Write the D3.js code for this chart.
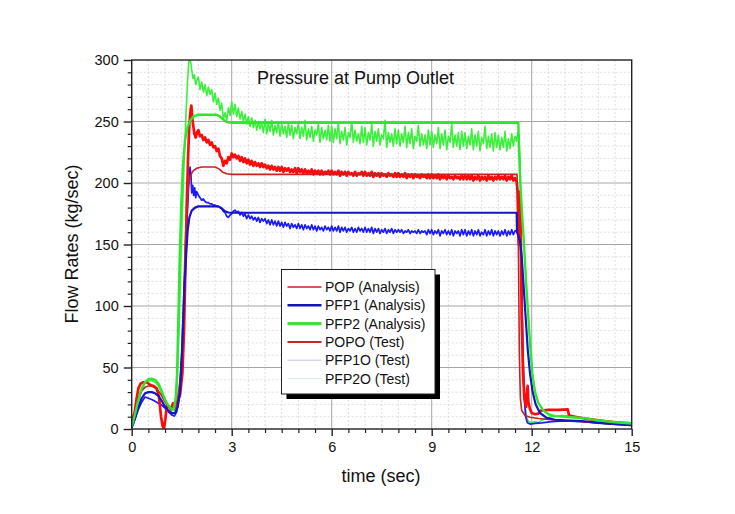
<!DOCTYPE html>
<html>
<head>
<meta charset="utf-8">
<script src="https://cdn.jsdelivr.net/npm/d3@7"></script>
<style>
  html, body { margin: 0; padding: 0; background: #fff; }
  svg { display: block; font-family: "Liberation Sans", Arial, sans-serif; }
</style>
</head>
<body>
<svg id="chart" width="735" height="514"></svg>
<script>
// ---------------- DATA ----------------
const chartTitle = "Pressure at Pump Outlet";
const xLabel = "time (sec)";
const yLabel = "Flow Rates (kg/sec)";
const xTicks = [0, 3, 6, 9, 12, 15];
const yTicks = [0, 50, 100, 150, 200, 250, 300];
const seriesNames = ["POP (Analysis)", "PFP1 (Analysis)", "PFP2 (Analysis)", "POPO (Test)", "PFP1O (Test)", "PFP2O (Test)"];

// Analysis curves: [time, value]
const popAnalysis = [[0,4],[0.1,14],[0.2,24],[0.3,31],[0.4,34],[0.5,35],[0.6,35],[0.7,33.5],[0.8,31],[0.9,27],[1.0,22],[1.1,19],[1.2,17.5],[1.3,19],[1.38,25],[1.45,40],[1.5,60],[1.55,100],[1.6,145],[1.65,180],[1.7,198],[1.76,206],[1.85,210],[1.95,212],[2.1,213],[2.5,213],[2.62,211.5],[2.72,209],[2.85,207.5],[3.0,207],[11.56,207],[11.6,150],[11.63,60],[11.66,25],[11.7,15],[11.8,11],[11.95,9.5],[12.2,8.5],[12.6,7.5],[13,7],[13.5,6],[14,5],[14.5,4],[15,3.5]];
const pfp1Analysis = [[0,1],[0.1,9],[0.2,18],[0.3,25],[0.4,29],[0.5,30],[0.6,30],[0.7,29],[0.8,27],[0.9,23],[1.0,18],[1.1,15],[1.2,13],[1.3,13],[1.38,18],[1.45,30],[1.52,70],[1.58,115],[1.64,145],[1.68,162],[1.73,172],[1.8,177.5],[1.9,180],[2.0,181],[2.6,181],[2.7,179.5],[2.8,177],[2.9,176],[3.0,175.8],[11.55,175.8],[11.56,160],[11.6,157],[11.65,153],[11.7,140],[11.76,115],[11.82,90],[11.88,65],[11.95,45],[12.03,30],[12.12,20],[12.25,13],[12.45,9],[12.7,7.5],[13.0,7],[13.5,6.5],[14,5],[14.5,4],[15,3.2]];
const pfp2Analysis = [[0,2],[0.1,12],[0.2,24],[0.3,33],[0.4,38],[0.5,40.5],[0.6,41],[0.7,40],[0.8,37],[0.9,31],[1.0,24],[1.1,19],[1.2,16],[1.27,17],[1.32,25],[1.36,45],[1.4,90],[1.44,140],[1.49,185],[1.54,215],[1.6,235],[1.68,246],[1.76,251],[1.85,254],[2.0,255.5],[2.55,255.5],[2.65,254],[2.75,251.5],[2.85,249.5],[3.0,249],[11.6,249],[11.62,225],[11.66,200],[11.71,175],[11.77,150],[11.83,120],[11.89,95],[11.95,70],[12.02,45],[12.1,30],[12.2,21],[12.35,15],[12.5,12],[12.7,10.5],[13.0,10],[13.5,9],[14,7],[14.5,5.5],[15,4.5]];

// Test curves: start section, sampled plateau (2.0 .. 11.5 s every 0.05 s), end section
const plateauStart = 2.0, plateauStep = 0.05;

const popoHead = [[0,8],[0.08,12],[0.15,25],[0.2,33],[0.27,37],[0.35,38],[0.45,38],[0.55,36],[0.65,35],[0.75,33],[0.82,26],[0.88,10],[0.93,2],[0.97,0.5],[1.01,8],[1.06,20],[1.12,18],[1.18,16],[1.24,21],[1.3,17],[1.38,22],[1.45,28],[1.52,45],[1.57,80],[1.61,130],[1.65,180],[1.69,220],[1.73,248],[1.77,260],[1.79,263],[1.82,252],[1.85,246],[1.88,240],[1.92,237],[1.96,241]];
const popoPlateau = [
  243,238,239,235,237,233,235,231,233,229,230,226,228,222,220,214,218,216,221,219,
  224,221,223,220,222,218,221,217,220,216,219,215,218,214,217,214,216,213,216,213,
  215,212,214,211,214,211,213,210,213,210,213,209,212,210,212,209,211,209,212,208,
  212,209,211,208,211,208,210,208,211,207,210,208,210,207,210,207,209,208,210,207,
  210,207,209,207,210,206,209,207,209,206,209,207,208,206,209,206,208,207,209,206,
  209,206,208,206,209,205,208,206,208,205,208,206,207,205,208,206,207,205,208,205,
  208,205,207,205,208,204,207,205,207,204,207,205,206,204,207,205,206,204,207,204,
  207,204,206,204,207,203,206,204,206,203,206,204,205,203,206,204,205,203,206,203,
  206,203,206,203,206,202,205,203,206,202,205,203,205,202,206,203,205,202,205,203,
  206,203,205,203,206,202,205,203,206,202,204];
const popoTail = [[11.55,201],[11.58,192],[11.61,150],[11.63,175],[11.65,193],[11.67,160],[11.7,90],[11.74,45],[11.78,25],[11.83,18],[11.86,30],[11.88,35],[11.9,22],[11.95,16],[12.0,13],[12.1,12],[12.2,12.5],[12.27,15],[12.5,15.5],[12.8,15.5],[13.08,16],[13.12,11],[13.3,10],[13.6,8.5],[14.0,7],[14.5,5.5],[15,4.5]];

const pfp1oHead = [[0,1],[0.1,8],[0.2,16],[0.3,22],[0.4,26],[0.5,25],[0.6,24],[0.7,22.5],[0.8,21],[0.9,19.5],[1.0,17],[1.1,14],[1.2,11.5],[1.28,10.5],[1.35,14],[1.42,25],[1.5,55],[1.56,95],[1.61,135],[1.66,170],[1.71,198],[1.75,213],[1.78,205],[1.8,192],[1.83,198],[1.86,190],[1.89,196],[1.92,188],[1.95,193]];
const pfp1oPlateau = [
  190,188,186,187,185,184,184,183,183,182,182,181,181,180,179,177,176,173,172,174,
  175,177,178,176,177,174,176,173,175,171,174,171,173,170,172,169,172,168,171,169,
  171,167,170,166,170,166,169,165,169,165,168,164,168,165,167,163,167,164,166,163,
  167,163,166,162,166,163,165,162,166,162,165,161,165,162,164,161,165,162,164,161,
  165,161,164,161,165,160,164,161,164,160,163,161,164,160,163,160,164,161,163,160,
  164,160,163,160,164,159,163,160,163,159,162,160,163,159,162,160,163,159,162,160,
  162,160,162,159,161,160,162,159,161,160,161,159,162,159,161,160,161,158,162,159,
  162,158,161,159,162,157,161,159,162,158,161,158,162,157,161,159,161,157,162,158,
  162,157,161,158,162,157,161,158,162,157,160,158,162,157,161,158,162,157,161,158,
  161,157,161,158,162,157,161,158,162,158,161];
const pfp1oTail = [[11.55,161],[11.6,166],[11.64,174],[11.67,165],[11.7,120],[11.74,60],[11.78,25],[11.82,10],[11.87,5],[11.95,4],[12.1,4.5],[12.3,5],[12.6,6],[13.0,6.5],[13.5,6],[14,5],[14.5,4],[15,3]];

const pfp2oHead = [[0,1],[0.1,10],[0.2,22],[0.3,32],[0.4,37],[0.5,39],[0.6,39.5],[0.7,38],[0.8,35],[0.9,29],[1.0,22],[1.1,18],[1.2,15],[1.28,15],[1.33,22],[1.37,40],[1.42,80],[1.47,130],[1.52,175],[1.57,215],[1.62,250],[1.67,280],[1.71,298],[1.74,305],[1.77,298],[1.8,292],[1.84,285],[1.88,288],[1.92,280],[1.96,284]];
const pfp2oPlateau = [
  286,276,282,274,280,271,278,272,276,266,273,264,269,259,265,252,257,251,261,255,
  266,256,264,254,261,252,258,250,256,248,254,246,253,245,251,243,250,244,249,241,
  252,240,249,242,251,239,247,241,250,238,248,240,246,237,249,239,247,236,245,240,
  249,236,245,238,251,235,244,237,246,234,243,239,248,233,245,236,243,235,247,234,
  246,233,244,236,249,232,242,235,245,231,241,237,250,233,243,234,240,232,246,233,
  245,231,241,235,248,230,242,234,244,231,239,236,251,229,241,233,240,230,244,232,
  243,230,240,233,246,229,241,232,244,228,238,234,247,230,240,231,239,228,243,231,
  242,229,239,232,245,228,240,231,243,227,238,233,248,229,239,230,241,227,242,230,
  241,228,238,231,244,227,239,230,242,226,237,232,246,228,238,229,240,226,241,229,
  239,227,237,229,242,226,236,228,240,230,238];
const pfp2oTail = [[11.55,234],[11.58,241],[11.62,238],[11.65,220],[11.68,160],[11.72,90],[11.76,40],[11.8,18],[11.85,9],[11.9,6],[12.0,5],[12.1,6],[12.2,5],[12.3,7],[12.45,9],[12.6,10],[12.9,11],[13.2,10.5],[13.5,9],[13.8,8],[14.2,6.5],[14.6,5],[15,4]];

// ---------------- CHART ----------------
(function () {
function assemble(head, plateau, tail) {
  const mid = plateau.map((v, i) => [+(plateauStart + i * plateauStep).toFixed(2), v]);
  return head.concat(mid, tail);
}

const series = [
  { name: seriesNames[0], data: popAnalysis, color: "#cc1f1f", width: 1.6, legendColor: "#c81e28", legendWidth: 1.6 },
  { name: seriesNames[1], data: pfp1Analysis, color: "#1414c8", width: 2.2, legendColor: "#1414b4", legendWidth: 2.6 },
  { name: seriesNames[2], data: pfp2Analysis, color: "#2ee62e", width: 2.4, legendColor: "#44dd44", legendWidth: 3.2 },
  { name: seriesNames[3], data: assemble(popoHead, popoPlateau, popoTail), color: "#ff0a0a", width: 2.7, legendColor: "#d0202a", legendWidth: 2 },
  { name: seriesNames[4], data: assemble(pfp1oHead, pfp1oPlateau, pfp1oTail), color: "#1a1aff", width: 1.7, legendColor: "#c4c4e0", legendWidth: 1 },
  { name: seriesNames[5], data: assemble(pfp2oHead, pfp2oPlateau, pfp2oTail), color: "#3af03a", width: 1.6, legendColor: "#e2ebe2", legendWidth: 1 }
];

const svg = d3.select("#chart");
const pL = 131.7, pR = 631.7, pT = 60, pB = 429;

const x = d3.scaleLinear().domain([0, 15]).range([pL, pR]);
const y = d3.scaleLinear().domain([0, 300]).range([pB, pT]);

// minor grid
const xMinor = d3.range(0, 15.001, 0.5).filter(v => Math.abs(v % 3) > 1e-6);
const yMinor = d3.range(0, 300.001, 10).filter(v => v % 50 !== 0);
const grid = svg.append("g");
grid.append("g").selectAll("line").data(xMinor).join("line")
  .attr("x1", d => x(d)).attr("x2", d => x(d)).attr("y1", pT).attr("y2", pB)
  .attr("stroke", "#d4d4d4").attr("stroke-width", 0.8).attr("stroke-dasharray", "2,2");
grid.append("g").selectAll("line").data(yMinor).join("line")
  .attr("y1", d => y(d)).attr("y2", d => y(d)).attr("x1", pL).attr("x2", pR)
  .attr("stroke", "#d4d4d4").attr("stroke-width", 0.8).attr("stroke-dasharray", "2,2");
// major grid
grid.append("g").selectAll("line").data(xTicks.slice(1, -1)).join("line")
  .attr("x1", d => x(d)).attr("x2", d => x(d)).attr("y1", pT).attr("y2", pB)
  .attr("stroke", "#a6a6a6").attr("stroke-width", 1);
grid.append("g").selectAll("line").data(yTicks.slice(1, -1)).join("line")
  .attr("y1", d => y(d)).attr("y2", d => y(d)).attr("x1", pL).attr("x2", pR)
  .attr("stroke", "#a6a6a6").attr("stroke-width", 1);

// clip
svg.append("defs").append("clipPath").attr("id", "plotclip")
  .append("rect").attr("x", pL).attr("y", pT).attr("width", pR - pL).attr("height", pB - pT);

const line = d3.line().x(d => x(d[0])).y(d => y(d[1]));
const plot = svg.append("g").attr("clip-path", "url(#plotclip)");
const drawOrder = [5, 4, 3, 0, 1, 2];
drawOrder.forEach(i => {
  const s = series[i];
  plot.append("path").datum(s.data)
    .attr("d", line).attr("fill", "none")
    .attr("stroke", s.color).attr("stroke-width", s.width)
    .attr("stroke-linejoin", "round");
});

// frame
svg.append("rect").attr("x", pL).attr("y", pT).attr("width", pR - pL).attr("height", pB - pT)
  .attr("fill", "none").attr("stroke", "#222").attr("stroke-width", 1.4);

// axes
const xAxis = d3.axisBottom(x).tickValues(xTicks).tickSize(7).tickPadding(6).tickFormat(d3.format("d"));
const gx = svg.append("g").attr("transform", `translate(0,${pB})`).call(xAxis);
gx.select(".domain").remove();
gx.selectAll(".tick line").attr("stroke", "#222").attr("stroke-width", 1.4);
gx.selectAll(".tick text").attr("font-size", 14.5).attr("fill", "#111").attr("font-family", "Liberation Sans, Arial, sans-serif");
const xAxisMinor = d3.axisBottom(x).tickValues(xMinor).tickSize(4).tickFormat("");
const gxm = svg.append("g").attr("transform", `translate(0,${pB})`).call(xAxisMinor);
gxm.select(".domain").remove();
gxm.selectAll(".tick line").attr("stroke", "#222").attr("stroke-width", 1.2);

const yAxis = d3.axisLeft(y).tickValues(yTicks).tickSize(8).tickPadding(5).tickFormat(d3.format("d"));
const gy = svg.append("g").attr("transform", `translate(${pL},0)`).call(yAxis);
gy.select(".domain").remove();
gy.selectAll(".tick line").attr("stroke", "#222").attr("stroke-width", 1.4);
gy.selectAll(".tick text").attr("font-size", 14.5).attr("fill", "#111").attr("font-family", "Liberation Sans, Arial, sans-serif");
const yAxisMinor = d3.axisLeft(y).tickValues(yMinor).tickSize(4).tickFormat("");
const gym = svg.append("g").attr("transform", `translate(${pL},0)`).call(yAxisMinor);
gym.select(".domain").remove();
gym.selectAll(".tick line").attr("stroke", "#222").attr("stroke-width", 1.2);

// labels
svg.append("text").attr("x", 381).attr("y", 482).attr("text-anchor", "middle")
  .attr("font-size", 18).attr("fill", "#111").text(xLabel);
svg.append("text").attr("transform", "translate(78,244) rotate(-90)").attr("text-anchor", "middle")
  .attr("font-size", 18).attr("fill", "#111").text(yLabel);
svg.append("text").attr("x", 257).attr("y", 84)
  .attr("font-size", 18).attr("fill", "#111").text(chartTitle);

// legend
const lg = svg.append("g");
const lx = 281.5, ly = 269.5, lw = 153.5, lh = 124.5;
lg.append("rect").attr("x", lx + 5).attr("y", ly + 5).attr("width", lw).attr("height", lh).attr("fill", "#000");
lg.append("rect").attr("x", lx).attr("y", ly).attr("width", lw).attr("height", lh)
  .attr("fill", "#fff").attr("stroke", "#222").attr("stroke-width", 1);
series.forEach((s, i) => {
  const yy = ly + 17.5 + i * 18.3;
  lg.append("line").attr("x1", lx + 6).attr("x2", lx + 40).attr("y1", yy).attr("y2", yy)
    .attr("stroke", s.legendColor).attr("stroke-width", s.legendWidth);
  lg.append("text").attr("x", lx + 43.5).attr("y", yy + 5)
    .attr("font-size", 14).attr("fill", "#111").text(s.name);
});
})();
</script>
</body>
</html>
